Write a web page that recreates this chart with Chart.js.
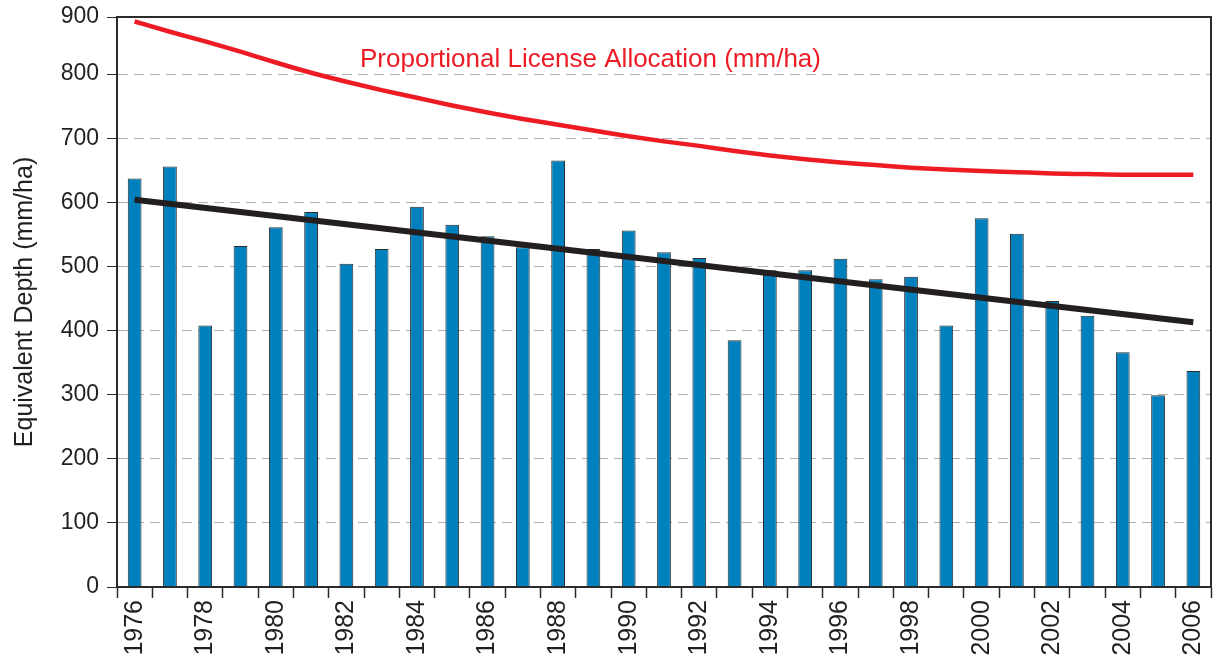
<!DOCTYPE html>
<html lang="en">
<head>
    <meta charset="UTF-8">
    <title>Equivalent Depth</title>
    <script src="https://cdn.jsdelivr.net/npm/chart.js"></script>
    <style>
        body { margin: 0; background: #fff; }
        #wrap { width: 1217px; height: 663px; }
    </style>
</head>
<body>
    <div id="wrap"><canvas id="grafico"></canvas></div>

    <script>
        const years = [];
        for (let y = 1976; y <= 2006; y++) years.push(String(y));

        // yearly equivalent depth (mm/ha)
        const depth = [637, 656, 408, 532, 561, 585, 504, 527, 593, 565, 547, 530, 665, 527, 556,
            522, 513, 385, 494, 494, 512, 480, 484, 408, 575, 551, 446, 423, 366, 299, 337];

        // proportional licence allocation curve (mm/ha)
        const allocation = [882, 866, 851, 835, 818, 802, 788, 775, 763, 751, 740, 730, 721, 712, 703,
            695, 688, 680, 673, 667, 662, 658, 654, 651, 649, 647, 645, 644, 643, 643, 643];

        // trend line: only the two end points
        const trend = years.map(() => null);
        trend[0] = 604;
        trend[years.length - 1] = 413;

        // the top of the axis sits a little under 900 but carries the 900 label
        const yTickValues = [0, 100, 200, 300, 400, 500, 600, 700, 800, 889];
        const yTickLabels = ['0', '100', '200', '300', '400', '500', '600', '700', '800', '900'];

        const font = 'Liberation Sans, Arial, sans-serif';
        const dark = '#2b2b2b';

        const extras = {
            id: 'extras',
            afterDraw(chart) {
                const { ctx, chartArea: a } = chart;
                ctx.save();
                ctx.strokeStyle = dark;
                ctx.lineWidth = 2;
                ctx.strokeRect(a.left, a.top, a.right - a.left, a.bottom - a.top);
                ctx.fillStyle = '#ed1c24';
                ctx.font = '26px ' + font;
                ctx.textBaseline = 'alphabetic';
                ctx.fillText('Proportional License Allocation (mm/ha)', a.left + 243, a.top + 50);
                ctx.restore();
            }
        };

        new Chart(document.getElementById('grafico'), {
            type: 'bar',
            data: {
                labels: years,
                datasets: [
                    {
                        type: 'line',
                        data: allocation,
                        borderColor: '#ed1c24',
                        borderWidth: 4.5,
                        pointRadius: 0,
                        cubicInterpolationMode: 'monotone',
                        order: 0
                    },
                    {
                        type: 'line',
                        data: trend,
                        borderColor: '#231f20',
                        borderWidth: 6,
                        pointRadius: 0,
                        spanGaps: true,
                        order: 1
                    },
                    {
                        data: depth,
                        backgroundColor: '#0080bd',
                        borderColor: dark,
                        borderWidth: 1,
                        categoryPercentage: 1,
                        barPercentage: 0.39,
                        order: 2
                    }
                ]
            },
            options: {
                responsive: true,
                maintainAspectRatio: false,
                animation: false,
                layout: { padding: { top: 17, right: 6, left: 0, bottom: 0 } },
                plugins: { legend: { display: false }, tooltip: { enabled: false } },
                scales: {
                    x: {
                        grid: { drawOnChartArea: false, tickLength: 11, tickColor: dark, tickWidth: 1.5 },
                        border: { color: dark, width: 2 },
                        ticks: {
                            autoSkip: false,
                            maxRotation: 90,
                            minRotation: 90,
                            padding: 2,
                            color: '#231f20',
                            font: { family: font, size: 25 },
                            callback: (v, i) => (i % 2 === 0 ? years[i] : '')
                        },
                        afterFit: s => {
                            s.height = 76;
                            s.paddingLeft = 0;
                            s.paddingRight = 0;
                        }
                    },
                    y: {
                        min: 0,
                        max: 889,
                        afterBuildTicks: s => { s.ticks = yTickValues.map(v => ({ value: v })); },
                        grid: { color: '#b0b0b0', tickColor: dark, tickLength: 10, lineWidth: 1 },
                        border: { color: dark, width: 2, dash: [10, 6] },
                        ticks: {
                            padding: 8,
                            color: '#231f20',
                            font: { family: font, size: 23 },
                            callback: (v, i) => yTickLabels[i]
                        },
                        title: {
                            display: true,
                            text: 'Equivalent Depth (mm/ha)',
                            color: '#231f20',
                            font: { family: font, size: 25 },
                            padding: { top: 10, bottom: 0 }
                        },
                        afterFit: s => {
                            s.width = 117;
                            s.paddingTop = 0;
                            s.paddingBottom = 0;
                        }
                    }
                }
            },
            plugins: [extras]
        });
    </script>
</body>
</html>
